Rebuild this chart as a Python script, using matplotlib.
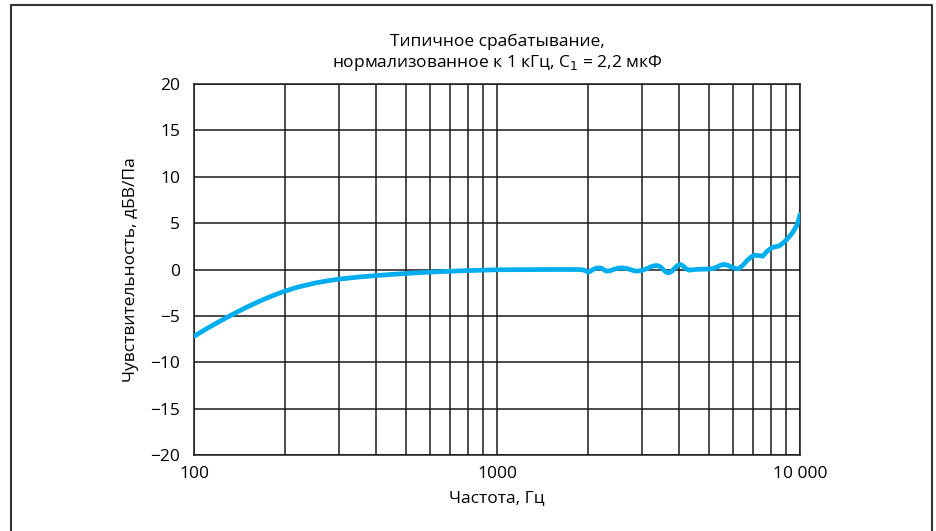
import numpy as np
import matplotlib
matplotlib.use("Agg")
import matplotlib.pyplot as plt
from matplotlib.lines import Line2D
from matplotlib.ticker import FixedLocator, NullFormatter

plt.rcParams['font.family'] = ['Open Sans', 'DejaVu Sans']

# values (Hz, dBV/Pa)
freq = [100, 110, 120, 131, 140, 150, 160, 170, 180, 190, 200, 220, 250,
        270, 300, 350, 400, 450, 500, 600, 700, 800, 900, 1000,
        1500, 1800, 1900, 1960, 2000, 2030, 2080, 2130, 2170, 2220, 2270, 2310,
        2370, 2450, 2520, 2590, 2670, 2750, 2830, 2900, 2990, 3100, 3220, 3300,
        3380, 3460, 3560, 3620, 3690, 3770, 3860, 3950, 4030, 4110, 4200, 4300,
        4450, 4600, 5000, 5170, 5350, 5500, 5640, 5780, 5950, 6150, 6280, 6500,
        6700, 6900, 7090, 7300, 7540, 7750, 8000, 8250, 8510, 8750, 9000, 9250,
        9420, 9600, 9780, 9900, 10000]
sens = [-7.2, -6.39, -5.69, -5.01, -4.52, -4.03, -3.6, -3.22, -2.88, -2.58, -2.32, -1.9, -1.47,
        -1.27, -1.04, -0.81, -0.65, -0.53, -0.43, -0.28, -0.19, -0.12, -0.07, -0.03,
        0.0, 0.0, -0.02, -0.12, -0.3, -0.2, 0.02, 0.15, 0.18, 0.12, -0.1, -0.18,
        -0.12, 0.05, 0.15, 0.18, 0.12, 0.0, -0.13, -0.18, -0.12, 0.05, 0.3, 0.4,
        0.43, 0.3, -0.1, -0.3, -0.36, -0.2, 0.15, 0.45, 0.54, 0.4, 0.1, -0.07,
        -0.02, 0.02, 0.05, 0.1, 0.3, 0.5, 0.54, 0.45, 0.25, 0.1, 0.1, 0.5,
        1.0, 1.35, 1.55, 1.5, 1.44, 1.9, 2.27, 2.45, 2.52, 2.8, 3.17, 3.6,
        3.9, 4.35, 4.8, 5.35, 5.94]

y_ticks = [-20, -15, -10, -5, 0, 5, 10, 15, 20]
y_labels = ['\u221220', '\u221215', '\u221210', '\u22125', '0', '5', '10', '15', '20']
x_ticks = [100, 1000, 10000]
x_labels = ['100', '1000', '10 000']
x_minor = [200, 300, 400, 500, 600, 700, 800, 900,
           2000, 3000, 4000, 5000, 6000, 7000, 8000, 9000]

W, H = 936, 531
fig = plt.figure(figsize=(W / 100, H / 100), dpi=100)
ax = fig.add_axes([194 / W, 1 - 455 / H, 606 / W, 371 / H])

ax.set_xscale('log')
ax.set_xlim(100, 10000)
ax.set_ylim(-20, 20)
ax.xaxis.set_major_locator(FixedLocator(x_ticks))
ax.xaxis.set_minor_locator(FixedLocator(x_minor))
ax.xaxis.set_minor_formatter(NullFormatter())
ax.set_xticklabels(x_labels)
ax.set_yticks(y_ticks)
ax.set_yticklabels(y_labels)
ax.tick_params(which='both', length=0, labelsize=12.5, colors='black')
ax.tick_params(axis='y', pad=10)
ax.tick_params(axis='x', pad=8)

ax.grid(True, which='both', color='#1a1a1a', linewidth=1.1)
for s in ax.spines.values():
    s.set_color('#1a1a1a')
    s.set_linewidth(1.1)

ax.plot(freq, sens, color='#00AEEF', linewidth=3.4, solid_capstyle='round',
        solid_joinstyle='round', zorder=3)

ax.set_xlabel('Частота, Гц', fontsize=12.5, labelpad=6)
ax.set_ylabel('Чувствительность, дБВ/Па', fontsize=12.5, labelpad=8)
ax.set_title('Типичное срабатывание,\nнормализованное к 1 кГц, C$_1$ = 2,2 мкФ',
             fontsize=12.5, pad=12, linespacing=1.25)

# outer frame (no bottom edge)
fx = [11 / W, 11 / W, 932 / W, 932 / W]
fy = [0, 1 - 5 / H, 1 - 5 / H, 0]
fig.add_artist(Line2D(fx, fy, transform=fig.transFigure, color='#333333', linewidth=1.5))

fig.savefig('out.png', dpi=100)
